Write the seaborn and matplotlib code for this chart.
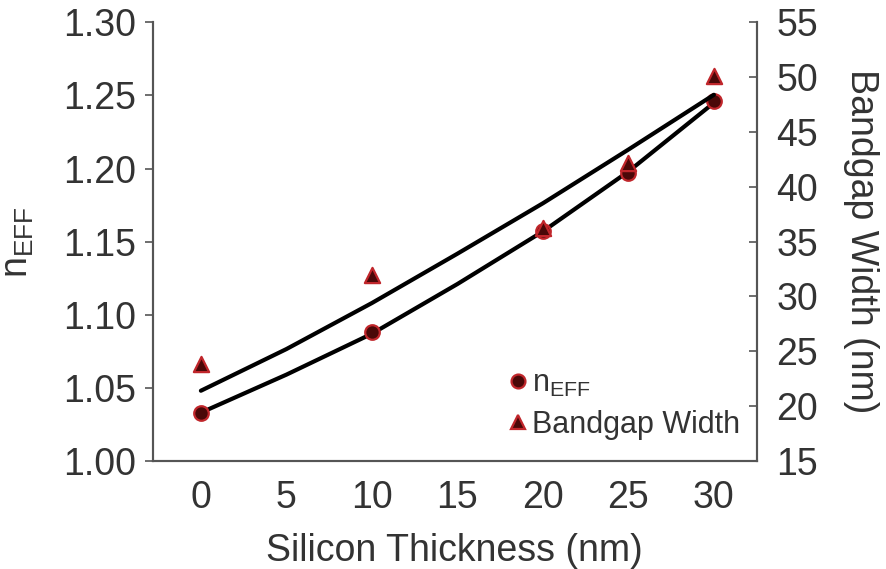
import matplotlib
matplotlib.use("Agg")
import matplotlib.pyplot as plt
import seaborn as sns
import pandas as pd
from matplotlib.lines import Line2D

sns.set_theme(style="white")
plt.rcParams['font.family'] = ['Liberation Sans', 'DejaVu Sans']
plt.rcParams['mathtext.fontset'] = 'custom'
plt.rcParams['mathtext.rm'] = 'Liberation Sans'
plt.rcParams['mathtext.it'] = 'Liberation Sans'

# measured points
thickness = [0, 10, 20, 25, 30]
n_eff = [1.033, 1.088, 1.157, 1.197, 1.246]
bandgap = [23.8, 32.0, 36.25, 42.2, 50.1]

# fitted curves
fit_x = [0, 5, 10, 15, 20, 25, 30]
fit_n_eff = [1.033, 1.059, 1.087, 1.121, 1.157, 1.198, 1.245]
fit_bandgap = [21.4, 25.2, 29.4, 33.9, 38.5, 43.4, 48.4]

x_ticks = [0, 5, 10, 15, 20, 25, 30]
left_ticks = [1.00, 1.05, 1.10, 1.15, 1.20, 1.25, 1.30]
right_ticks = [15, 20, 25, 30, 35, 40, 45, 50, 55]

pts = pd.DataFrame({"x": thickness, "n": n_eff, "bg": bandgap})
fit = pd.DataFrame({"x": fit_x, "n": fit_n_eff, "bg": fit_bandgap})

txt = '#333333'
spine_c = '#555555'
face = '#4a0808'
edge = '#c0262b'

fig = plt.figure(figsize=(8.86, 5.69), dpi=100)
ax = fig.add_axes([0.1727, 0.19, 0.6813, 0.7706])
ax2 = ax.twinx()

sns.lineplot(data=fit, x="x", y="n", ax=ax, color='black', lw=3.0, zorder=2)
sns.lineplot(data=fit, x="x", y="bg", ax=ax2, color='black', lw=3.0, zorder=2)
sns.scatterplot(data=pts, x="x", y="n", ax=ax, marker='o', s=110,
                color=face, edgecolor=edge, linewidth=1.6, zorder=3)
sns.scatterplot(data=pts, x="x", y="bg", ax=ax2, marker='^', s=120,
                color=face, edgecolor=edge, linewidth=1.6, zorder=3)

ax.set_xlim(-2.8, 32.5)
ax.set_ylim(1.00, 1.30)
ax2.set_ylim(15, 55)
ax.set_xticks(x_ticks)
ax.set_yticks(left_ticks)
ax.set_yticklabels([f"{v:.2f}" for v in left_ticks])
ax2.set_yticks(right_ticks)

fs = 27
ax.set_xlabel("Silicon Thickness (nm)", fontsize=fs, color=txt, labelpad=12)
ax.set_ylabel(r"$\mathregular{n_{EFF}}$", fontsize=fs, color=txt, labelpad=20)
ax2.set_ylabel("Bandgap Width (nm)", fontsize=fs, color=txt, rotation=270, labelpad=44)

for a in (ax, ax2):
    for s in a.spines.values():
        s.set_color(spine_c)
        s.set_linewidth(1.5)
    a.spines['top'].set_visible(False)
    a.tick_params(labelsize=fs, colors=txt)
ax.tick_params(axis='both', direction='out', length=6, width=1.2, color=spine_c, pad=8)
ax.tick_params(axis='y', pad=6)
ax2.tick_params(axis='y', direction='in', length=6, width=1.2, color=spine_c, pad=14)

handles = [
    Line2D([], [], marker='o', ls='none', markersize=10, markerfacecolor=face,
           markeredgecolor=edge, markeredgewidth=1.6),
    Line2D([], [], marker='^', ls='none', markersize=10, markerfacecolor=face,
           markeredgecolor=edge, markeredgewidth=1.6),
]
leg = ax.legend(handles, [r"$\mathregular{n_{EFF}}$", "Bandgap Width"], loc='lower left',
                bbox_to_anchor=(0.57, 0.02), frameon=False, fontsize=22,
                handlelength=0.6, handletextpad=0.15, labelspacing=0.35, borderaxespad=0)
for t in leg.get_texts():
    t.set_color(txt)

fig.savefig("out.png", dpi=100)
